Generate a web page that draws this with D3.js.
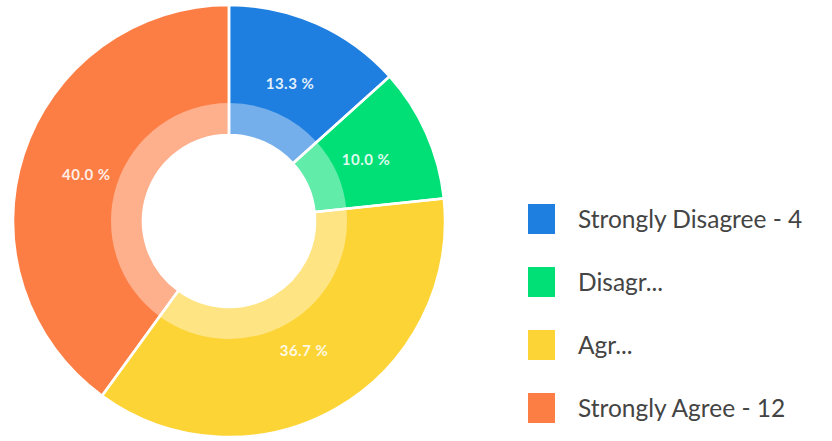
<!DOCTYPE html>
<html><head><meta charset="utf-8">
<script src="https://cdn.jsdelivr.net/npm/d3@7"></script>
<style>body{margin:0;background:#fff}svg{display:block}</style>
</head><body>
<svg id="c" width="832" height="441"></svg>
<script>
const categories = ["Strongly Disagree", "Disagree", "Agree", "Strongly Agree"];
const values = [4, 3, 11, 12];
const legendLabels = ["Strongly Disagree - 4", "Disagr...", "Agr...", "Strongly Agree - 12"];
const colors = ["#1f7fe1", "#00e077", "#fdd436", "#fd7e45"];

const svg = d3.select("#c");
const cx = 229, cy = 221, R = 216, r0 = 86, rMid = 118;
const total = d3.sum(values);
const pie = d3.pie().sort(null).value(d => d)(values);
const g = svg.append("g").attr("transform", `translate(${cx},${cy})`);

const outerArc = d3.arc().innerRadius(r0).outerRadius(R);
const innerArc = d3.arc().innerRadius(r0).outerRadius(rMid);

g.selectAll("path.o").data(pie).join("path").attr("class","o")
  .attr("d", outerArc).attr("fill", (d,i) => colors[i]);
g.selectAll("path.i").data(pie).join("path").attr("class","i")
  .attr("d", innerArc).attr("fill", "#fff").attr("fill-opacity", 0.38);
g.selectAll("path.s").data(pie).join("path").attr("class","s")
  .attr("d", outerArc).attr("fill", "none").attr("stroke", "#fff").attr("stroke-width", 2.5);

const labelArc = d3.arc().innerRadius(150).outerRadius(150);
g.selectAll("text.l").data(pie).join("text").attr("class","l")
  .attr("transform", d => `translate(${labelArc.centroid(d)})`)
  .attr("text-anchor","middle").attr("dy","0.35em")
  .attr("fill","#fff").attr("fill-opacity",0.88)
  .style("font-family","Lato, 'Open Sans', sans-serif").style("font-weight","700").style("font-size","15px")
  .style("letter-spacing","0.5px")
  .text(d => (d.value/total*100).toFixed(1) + " %");

const legend = svg.append("g").attr("transform","translate(528,0)");
const yScale = d3.scalePoint().domain(categories).range([219, 408]);
const items = legend.selectAll("g").data(categories).join("g")
  .attr("transform", d => `translate(0,${yScale(d)})`);
items.append("rect").attr("x",0).attr("y",-15).attr("width",27).attr("height",30)
  .attr("fill",(d,i)=>colors[i]);
items.append("text").attr("x",50).attr("dy","0.35em")
  .attr("fill","#444").style("font-family","Lato, 'Open Sans', sans-serif").style("font-size","24.5px")
  .text((d,i)=>legendLabels[i]);
</script>
</body></html>
